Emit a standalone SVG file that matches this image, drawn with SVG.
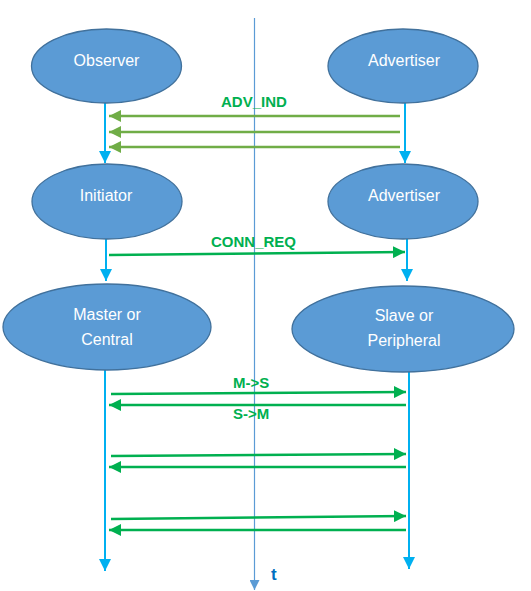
<svg xmlns="http://www.w3.org/2000/svg" width="531" height="591" viewBox="0 0 531 591">
<defs>
<style>
.node{fill:#5B9BD5;stroke:#41719C;stroke-width:1.3}
.nt{fill:#fff;font-family:"Liberation Sans",Arial,sans-serif;font-size:16px;text-anchor:middle;dominant-baseline:central}
.life{stroke:#00B0F0;stroke-width:2;fill:none}
.adv{stroke:#70AD47;stroke-width:2.5;fill:none}
.msg{stroke:#00B050;stroke-width:2.5;fill:none}
.lbl{fill:#00B050;font-family:"Liberation Sans",Arial,sans-serif;font-size:15px;font-weight:bold}
</style>
<marker id="mLife" markerWidth="12" markerHeight="12" refX="10" refY="5" orient="auto" markerUnits="userSpaceOnUse" viewBox="0 0 10 10"><path d="M0,0 L10,5 L0,10 z" fill="#00B0F0"/></marker>
<marker id="mAdv" markerWidth="12" markerHeight="12" refX="10" refY="5" orient="auto" markerUnits="userSpaceOnUse" viewBox="0 0 10 10"><path d="M0,0 L10,5 L0,10 z" fill="#70AD47"/></marker>
<marker id="mMsg" markerWidth="12" markerHeight="12" refX="10" refY="5" orient="auto" markerUnits="userSpaceOnUse" viewBox="0 0 10 10"><path d="M0,0 L10,5 L0,10 z" fill="#00B050"/></marker>
<marker id="mT" markerWidth="10" markerHeight="10" refX="10" refY="5" orient="auto" markerUnits="userSpaceOnUse" viewBox="0 0 10 10"><path d="M0,0 L10,5 L0,10 z" fill="#5B9BD5"/></marker>
</defs>
<rect width="531" height="591" fill="#fff"/>
<g id="connectors">
<line x1="254.5" y1="18" x2="254.5" y2="590" stroke="#5B9BD5" stroke-width="1.2" marker-end="url(#mT)"/>
<line class="life" x1="105" y1="103" x2="105" y2="163" marker-end="url(#mLife)"/>
<line class="life" x1="405" y1="103" x2="405" y2="163" marker-end="url(#mLife)"/>
<line class="life" x1="106" y1="239" x2="106" y2="281" marker-end="url(#mLife)"/>
<line class="life" x1="407" y1="239" x2="407" y2="281" marker-end="url(#mLife)"/>
<line class="life" x1="105" y1="370" x2="105" y2="571" marker-end="url(#mLife)"/>
<line class="life" x1="409" y1="372" x2="409" y2="569" marker-end="url(#mLife)"/>
<line class="adv" x1="400" y1="116" x2="109" y2="116" marker-end="url(#mAdv)"/>
<line class="adv" x1="400" y1="132" x2="109" y2="132" marker-end="url(#mAdv)"/>
<line class="adv" x1="400" y1="147" x2="109" y2="147" marker-end="url(#mAdv)"/>
<line class="msg" x1="109" y1="255" x2="405" y2="252" marker-end="url(#mMsg)"/>
<line class="msg" x1="111" y1="394" x2="406" y2="392" marker-end="url(#mMsg)"/>
<line class="msg" x1="406" y1="405" x2="109" y2="405" marker-end="url(#mMsg)"/>
<line class="msg" x1="111" y1="456" x2="406" y2="454" marker-end="url(#mMsg)"/>
<line class="msg" x1="406" y1="467" x2="109" y2="467" marker-end="url(#mMsg)"/>
<line class="msg" x1="111" y1="519" x2="406" y2="516" marker-end="url(#mMsg)"/>
<line class="msg" x1="406" y1="530" x2="109" y2="530" marker-end="url(#mMsg)"/>
</g>
<g id="labels">
<text class="lbl" x="221" y="107">ADV_IND</text>
<text class="lbl" x="211" y="247">CONN_REQ</text>
<text class="lbl" x="233" y="388">M-&gt;S</text>
<text class="lbl" x="233" y="419">S-&gt;M</text>
<text x="271" y="580" fill="#0070C0" font-family="Liberation Sans,Arial,sans-serif" font-size="17" font-weight="bold">t</text>
</g>
<g id="observer"><ellipse class="node" cx="106.5" cy="66" rx="75" ry="37"/><text class="nt" x="106.5" y="60">Observer</text></g>
<g id="advertiser1"><ellipse class="node" cx="403" cy="66" rx="75" ry="37"/><text class="nt" x="404" y="60">Advertiser</text></g>
<g id="initiator"><ellipse class="node" cx="107" cy="201.5" rx="75" ry="37.5"/><text class="nt" x="106" y="195">Initiator</text></g>
<g id="advertiser2"><ellipse class="node" cx="403" cy="201.5" rx="75" ry="37.5"/><text class="nt" x="404" y="195">Advertiser</text></g>
<g id="master"><ellipse class="node" cx="107" cy="327" rx="104" ry="43"/><text class="nt" x="107" y="314">Master or</text><text class="nt" x="107" y="339">Central</text></g>
<g id="slave"><ellipse class="node" cx="403" cy="329" rx="111" ry="43"/><text class="nt" x="404" y="315">Slave or</text><text class="nt" x="404" y="340">Peripheral</text></g>
</svg>
